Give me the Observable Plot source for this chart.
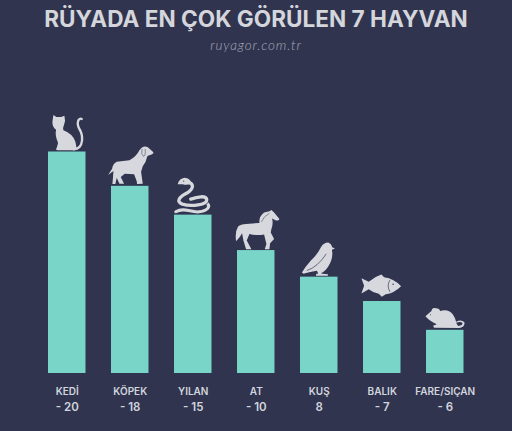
<!DOCTYPE html>
<html lang="tr">
<head>
<meta charset="utf-8">
<script src="https://cdn.jsdelivr.net/npm/d3@7"></script>
<script src="https://cdn.jsdelivr.net/npm/@observablehq/plot@0.6"></script>
<style>
html,body{margin:0;padding:0;background:#30344f;width:512px;height:431px;overflow:hidden}
#head{height:60px;text-align:center;position:relative}
h1{position:absolute;left:0;width:512px;top:5px;margin:0;font:700 22.6px/28px Inter,sans-serif;color:#d4d6dc;text-align:center;white-space:nowrap}
h2{position:absolute;left:0;width:512px;top:37px;margin:0;font:italic 300 13.5px/17px Lato,sans-serif;color:#a8acba;letter-spacing:.85px;text-align:center}
svg{display:block}
</style>
</head>
<body>
<div id="head"><h1>RÜYADA EN ÇOK GÖRÜLEN 7 HAYVAN</h1><h2>ruyagor.com.tr</h2></div>
<div id="chart"></div>
<script>
const animals = ["KEDİ","KÖPEK","YILAN","AT","KUŞ","BALIK","FARE/SIÇAN"];
const valueLabels = ["- 20","- 18","- 15","- 10","8","- 7","- 6"];
// drawn bar lengths (they do not follow the printed numbers)
const barLengths = [20,16.9,14.3,11.1,8.7,6.5,3.9];
const ink = "#d6d8de";
const dark = "#30344f";
const catIcon = `<path fill="${ink}" d="M67 44 L76 50 L90 50 L100 46 L102 62 L98 76 Q94 84 97 90 Q124 100 133 124 L137 146 Q136 150 128 150 L80 150 Q72 148 77 142 L81 128 Q71 104 75 88 Q63 80 64 64 Z"/><path fill="none" stroke="${ink}" stroke-width="7" stroke-linecap="round" d="M128 147 Q150 146 153 120 Q154 100 145 86 Q136 70 143 58 Q147 53 152 56"/>`;
const dogIcon = `<path fill="${ink}" d="M368 156 Q368 162 358 164 L350 167 Q346 186 336 198 L331 214 L336 250 L319 251 L318 243 L310 222 L282 220 L270 230 L280 250 L266 250 L258 232 L254 251 L245 251 L247 228 L248 212 L232 224 L244 205 Q246 190 258 184 L296 180 Q316 170 326 150 Q336 134 350 140 Q358 146 368 156 Z"/><path fill="none" stroke="${dark}" stroke-width="1.5" d="M334 146 Q330 162 338 168 Q346 166 343 146"/>`;
const coilA = "M470 245 C490 250 490 265 470 278 C445 290 435 305 455 312 C480 320 530 315 528 298 C525 285 500 290 480 297";
const coilB = "M435 335 C460 320 480 338 505 335 C530 332 540 320 530 310";
const snakeIcon = `<g fill="none" stroke-linecap="round"><path stroke="${dark}" stroke-width="13" d="${coilB}"/><path stroke="${ink}" stroke-width="9" d="${coilB}"/><path stroke="${dark}" stroke-width="14" d="${coilA}"/><path stroke="${ink}" stroke-width="10" d="${coilA}"/></g><path fill="${ink}" d="M441 252 Q444 236 462 233 Q478 234 482 250 Q468 256 456 252 Z"/><circle cx="459" cy="243" r="1.6" fill="${dark}"/>`;
const horseIcon = `<path fill="${ink}" d="M176 85 Q174 92 164 89 L154 84 Q158 100 152 115 L150 126 L160 145 L148 158 L146 176 L132 176 L137 160 L130 132 Q106 136 86 130 L78 150 L92 176 L76 176 L68 150 L64 128 Q58 140 46 152 Q42 124 52 108 Q60 100 76 100 L116 97 Q114 78 130 66 L146 62 L152 58 L160 66 Z"/><path fill="none" stroke="${dark}" stroke-width="1.5" d="M122 94 Q128 78 146 68"/>`;
const birdIcon = `<path fill="${ink}" d="M243 248 Q252 232 270 212 Q288 196 300 172 Q308 158 322 158 Q332 162 334 172 L342 176 L333 180 Q338 206 322 230 Q312 246 300 250 L305 252 L321 253 L321 258 L285 258 L286 252 L292 252 L288 243 Q262 248 248 252 Z"/><path fill="none" stroke="${dark}" stroke-width="2" d="M258 242 Q290 232 316 192"/>`;
const fishIcon = `<path fill="${ink}" d="M422 263 L444 274 Q462 258 482 252 L490 260 Q520 264 541 287 Q520 308 495 311 L483 319 L474 310 Q456 306 444 296 L422 309 L430 286 Z"/><path fill="none" stroke="${dark}" stroke-width="2" d="M507 269 Q497 287 508 304"/><circle cx="517" cy="281" r="2.2" fill="${dark}"/>`;
const ratIcon = `<path fill="${ink}" d="M614 378 L632 362 Q634 350 646 354 Q656 354 658 362 Q682 354 696 372 Q704 384 706 394 Q722 386 731 396 Q734 410 716 413 L640 412 L637 406 L648 402 Q626 392 614 378 Z"/><path fill="${dark}" d="M706 397 Q720 392 725 398 Q727 405 712 407 Z"/><circle cx="629" cy="373" r="1.5" fill="${dark}"/>`;
const iconMarkup = [catIcon,dogIcon,snakeIcon,horseIcon,birdIcon,fishIcon,ratIcon];
// view boxes are the traced crops: each one is centred on its bar with its base on the bar top
const iconBoxes = ["18.5 -25 180 180","208.5 78 180 180","397.5 165 180 180","16.5 0 180 180","205 82 180 180","394.5 153 180 180","583.5 240 180 180"];
const rows = animals.map((name,i)=>({name,value:valueLabels[i],length:barLengths[i],
  src:"data:image/svg+xml,"+encodeURIComponent(`<svg xmlns="http://www.w3.org/2000/svg" viewBox="${iconBoxes[i]}" width="180" height="180">${iconMarkup[i]}</svg>`)}));
const plot = Plot.plot({
  width:512,height:371,marginLeft:48,marginRight:48.5,marginTop:91.5,marginBottom:58,
  style:{background:"transparent"},
  x:{domain:animals,paddingInner:0.405,paddingOuter:0,round:false,axis:null},
  y:{domain:[0,20],axis:null},
  marks:[
    Plot.barY(rows,{x:"name",y:"length",fill:"#78d5c8",inset:0}),
    Plot.image(rows,{x:"name",y:"length",src:"src",width:60,height:60,dy:-30}),
    Plot.axisX(animals,{tickSize:0,tickPadding:14.5,fontSize:10,fontWeight:600,fontFamily:"Inter",fill:"#d2d5dd",label:null,tickFormat:d=>d}),
    Plot.axisX(animals,{tickSize:0,tickPadding:29,fontSize:11.5,fontWeight:600,fontFamily:"Inter",fill:"#d2d5dd",label:null,tickFormat:d=>valueLabels[animals.indexOf(d)]})
  ]
});
document.getElementById("chart").appendChild(plot);
</script>
</body>
</html>
